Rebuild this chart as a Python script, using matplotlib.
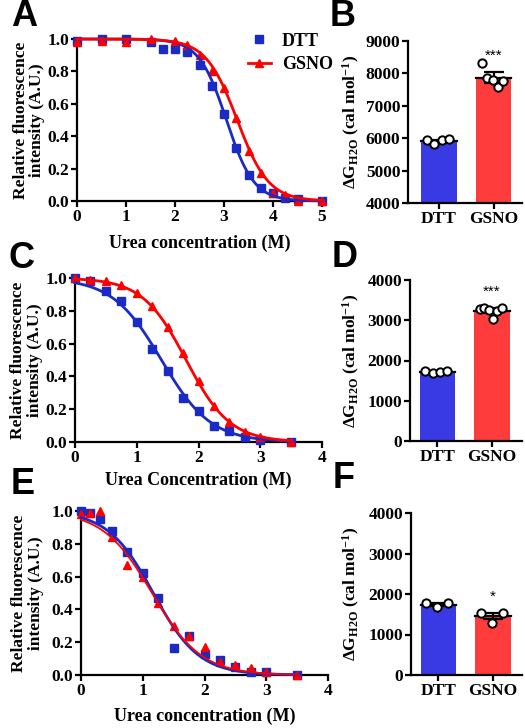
import numpy as np
import matplotlib
matplotlib.use("Agg")
import matplotlib.pyplot as plt
from matplotlib.lines import Line2D

plt.rcParams["font.family"] = "Liberation Serif"
plt.rcParams["font.weight"] = "bold"
plt.rcParams["axes.labelweight"] = "bold"
plt.rcParams["mathtext.fontset"] = "custom"
plt.rcParams["mathtext.rm"] = "Liberation Serif:bold"
plt.rcParams["mathtext.it"] = "Liberation Serif:bold"
plt.rcParams["mathtext.bf"] = "Liberation Serif:bold"

BLUE = "#1a2ac4"
RED = "#ff0000"
BAR_BLUE = "#3a3ae4"
BAR_RED = "#ff3c3c"

# ---- denaturation curves ----
a_x_dtt = [0, 0.5, 1, 1.5, 1.75, 2, 2.25, 2.5, 2.75, 3, 3.25, 3.5, 3.75, 4, 4.25, 4.5, 5]
a_y_dtt = [0.99, 1.0, 1.0, 0.98, 0.94, 0.94, 0.92, 0.84, 0.71, 0.54, 0.33, 0.16, 0.08, 0.05, 0.02, 0.01, 0.0]
a_x_gsno = [0, 0.5, 1, 1.5, 2, 2.25, 2.5, 2.75, 3, 3.25, 3.5, 3.75, 4, 4.25, 4.5, 5]
a_y_gsno = [0.98, 0.99, 0.98, 1.0, 0.99, 0.96, 0.90, 0.80, 0.70, 0.51, 0.31, 0.17, 0.05, 0.04, 0.0, 0.0]

c_x = [0, 0.25, 0.5, 0.75, 1, 1.25, 1.5, 1.75, 2, 2.25, 2.5, 2.75, 3, 3.5]
c_y_dtt = [1.0, 0.98, 0.92, 0.86, 0.73, 0.57, 0.43, 0.27, 0.19, 0.10, 0.07, 0.03, 0.01, 0.0]
c_y_gsno = [1.0, 0.99, 0.98, 0.96, 0.91, 0.83, 0.70, 0.54, 0.37, 0.22, 0.12, 0.06, 0.03, 0.0]

e_x = [0, 0.15, 0.3, 0.5, 0.75, 1, 1.25, 1.5, 1.75, 2, 2.25, 2.5, 2.75, 3, 3.5]
e_y_dtt = [1.0, 0.99, 0.95, 0.88, 0.75, 0.62, 0.47, 0.165, 0.24, 0.13, 0.09, 0.05, 0.02, 0.02, 0.0]
e_y_gsno = [0.98, 0.99, 1.0, 0.84, 0.67, 0.60, 0.44, 0.30, 0.24, 0.17, 0.08, 0.06, 0.04, 0.02, 0.0]

# sigmoid fit parameters (midpoint, width) estimated from the drawn curves
a_fit = {"DTT": (3.05, 0.28), "GSNO": (3.27, 0.32)}
c_fit = {"DTT": (1.40, 0.40), "GSNO": (1.80, 0.355)}
e_fit = {"DTT": (1.17, 0.37), "GSNO": (1.15, 0.40)}

# ---- delta G bars ----
groups = ["DTT", "GSNO"]
b_mean = [5910, 7866]
b_err = [40, 175]
b_pts = [[5950, 5820, 5930, 5960], [8330, 7850, 7800, 7580, 7770]]
d_mean = [1720, 3235]
d_err = [15, 60]
d_pts = [[1740, 1700, 1720, 1730], [3290, 3310, 3260, 3030, 3220, 3300]]
f_mean = [1740, 1450]
f_err = [40, 70]
f_pts = [[1790, 1670, 1790], [1530, 1290, 1540]]
stars = ["***", "***", "*"]

W, H = 525, 728
fig = plt.figure(figsize=(W / 100, H / 100), dpi=100)


def axes_px(left, right, top, bottom):
    return fig.add_axes([left / W, (H - bottom) / H, (right - left) / W, (bottom - top) / H])


def style(ax):
    for s in ["top", "right"]:
        ax.spines[s].set_visible(False)
    for s in ["left", "bottom"]:
        ax.spines[s].set_linewidth(1.6)
    ax.tick_params(width=1.6, length=4, labelsize=12.5, pad=1.5)
    for lab in ax.get_xticklabels() + ax.get_yticklabels():
        lab.set_fontweight("bold")


def sigmoid(x, x0, dx):
    return 1.0 / (1.0 + np.exp((x - x0) / dx))


def curve_panel(ax, x_dtt, y_dtt, x_gsno, y_gsno, fit, xmax, xfit_max, xlabel, lw_red=2.0):
    xx = np.linspace(0, xfit_max, 300)
    ax.plot(x_dtt, y_dtt, "s", color=BLUE, ms=6, zorder=3, clip_on=False)
    ax.plot(x_gsno, y_gsno, "^", color=RED, ms=6, zorder=3, clip_on=False)
    ax.plot(xx, sigmoid(xx, *fit["DTT"]), color=BLUE, lw=2.0, zorder=4, clip_on=False)
    ax.plot(xx, sigmoid(xx, *fit["GSNO"]), color=RED, lw=lw_red, zorder=4, clip_on=False)
    ax.set_xlim(0, xmax)
    ax.set_ylim(0, 1.0)
    ax.set_xticks(range(0, xmax + 1))
    ax.set_yticks([0, 0.2, 0.4, 0.6, 0.8, 1.0])
    ax.set_yticklabels(["0.0", "0.2", "0.4", "0.6", "0.8", "1.0"])
    ax.set_ylabel("Relative fluorescence\nintensity (A.U.)", fontsize=12.5, fontweight="bold",
                  linespacing=1.05)
    ax.set_xlabel(xlabel, fontsize=13, fontweight="bold")
    style(ax)


def bar_panel(ax, means, errs, pts, ylim, yticks, star, xlim):
    xs = np.arange(len(groups))
    ax.bar(xs, [m - ylim[0] for m in means], bottom=ylim[0], width=0.65,
           color=[BAR_BLUE, BAR_RED], zorder=1)
    for i, m in enumerate(means):
        ax.plot([xs[i] - 0.325, xs[i] + 0.325], [m, m], color="black", lw=1.6, zorder=2)
        ax.errorbar(xs[i], m, yerr=errs[i], color="black", capsize=7, capthick=1.6,
                    elinewidth=1.6, zorder=2)
        n = len(pts[i])
        offs = np.linspace(-0.22, 0.18, n)
        ax.plot(xs[i] + offs, pts[i], "o", ms=6, mfc="white", mec="black", mew=1.4, zorder=3)
    top = means[1] + errs[1]
    ax.text(1, top + (ylim[1] - ylim[0]) * 0.06, star, ha="center", va="bottom",
            fontsize=11, fontweight="normal", family="Liberation Sans")
    ax.set_xlim(*xlim)
    ax.set_ylim(*ylim)
    ax.set_yticks(yticks)
    ax.set_xticks(xs)
    ax.set_xticklabels(groups)
    ax.set_ylabel(r"$\Delta$G$_{\mathrm{H2O}}$ (cal mol$^{\mathrm{-1}}$)", fontsize=12.5)
    style(ax)
    ax.tick_params(axis="x", length=4)


axA = axes_px(77, 322, 39, 201)
curve_panel(axA, a_x_dtt, a_y_dtt, a_x_gsno, a_y_gsno, a_fit, 5, 5, "Urea concentration (M)")
handles = [Line2D([], [], color=BLUE, marker="s", ls="none", ms=6),
           Line2D([], [], color=RED, marker="^", lw=2, ms=6)]
axA.legend(handles, ["DTT", "GSNO"], loc="upper left", bbox_to_anchor=(0.63, 1.14),
           frameon=False, handlelength=1.3, handletextpad=0.6, labelspacing=0.35,
           prop={"family": "Liberation Serif", "weight": "bold", "size": 13})

axC = axes_px(75, 322, 278, 442)
curve_panel(axC, c_x, c_y_dtt, c_x, c_y_gsno, c_fit, 4, 3.5, "Urea Concentration (M)")

axE = axes_px(81, 328, 511, 675)
curve_panel(axE, e_x, e_y_dtt, e_x, e_y_gsno, e_fit, 4, 3.5, "Urea concentration (M)", lw_red=1.3)

axA.yaxis.set_label_coords(-0.13, 0.5)
axC.yaxis.set_label_coords(-0.13, 0.5)
axE.yaxis.set_label_coords(-0.15, 0.5)
axA.xaxis.set_label_coords(0.5, -0.21)
axC.xaxis.set_label_coords(0.5, -0.18)
axE.xaxis.set_label_coords(0.5, -0.20)

axB = axes_px(408, 522, 41, 203)
bar_panel(axB, b_mean, b_err, b_pts, (4000, 9000), [4000, 5000, 6000, 7000, 8000, 9000], stars[0], (-0.57, 1.52))
axD = axes_px(410, 522, 280, 441)
bar_panel(axD, d_mean, d_err, d_pts, (0, 4000), [0, 1000, 2000, 3000, 4000], stars[1], (-0.5, 1.55))
axF = axes_px(411, 522, 513, 675)
bar_panel(axF, f_mean, f_err, f_pts, (0, 4000), [0, 1000, 2000, 3000, 4000], stars[2], (-0.5, 1.53))
axB.yaxis.set_label_coords(-0.40, 0.5)
axD.yaxis.set_label_coords(-0.43, 0.5)
axF.yaxis.set_label_coords(-0.44, 0.5)

# panel letters
for letter, (px, py) in {"A": (24, 17), "B": (343, 16), "C": (22, 258),
                         "D": (345, 257), "E": (23, 485), "F": (344, 478)}.items():
    fig.text(px / W, 1 - py / H, letter, ha="center", va="center", fontsize=26,
             fontweight="bold", family="Liberation Sans")

fig.savefig("out.png", dpi=100)
